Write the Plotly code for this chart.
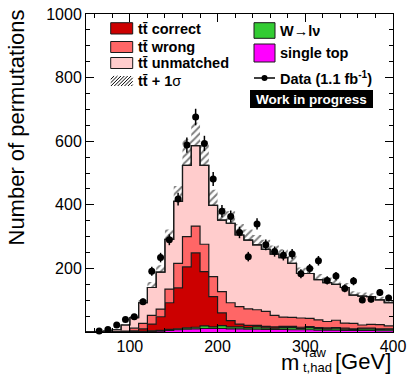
import numpy as np
import plotly.graph_objects as go

# ---------------- data ----------------
bin_edges = [50, 60, 70, 80, 90, 100, 110, 120, 130, 140, 150, 160, 170, 180, 190, 200,
             210, 220, 230, 240, 250, 260, 270, 280, 290, 300, 310, 320, 330, 340, 350,
             360, 370, 380, 390, 400]

single_top = [0, 0, 0, 0, 0, 0.5, 1, 2, 3, 5, 7, 9, 10, 11, 11, 11, 10, 10, 9, 9, 8, 8, 8,
              7, 7, 7, 6, 6, 6, 5, 5, 5, 5, 4, 4]
w_lnu = [0, 0, 0, 0, 0, 1, 1, 2, 2, 3, 3, 4, 5, 8, 5, 9, 6, 6, 5, 7, 5, 4, 6, 7, 4, 7, 5,
         4, 6, 4, 3, 5, 5, 4, 5]
tt_correct = [0, 0, 0, 0, 1, 2.5, 8, 21, 43, 84, 129, 192, 234, 171, 95, 40, 20, 9, 7, 5,
              5, 4, 4, 4, 4, 3, 3, 3, 2, 3, 2, 2, 2, 2, 1]
tt_wrong = [0, 0, 0, 1, 2, 8, 17, 27, 24, 43, 77, 95, 84, 86, 63, 67, 56, 55, 52, 49, 47,
            36, 29, 28, 29, 26, 24, 20, 23, 16, 17, 10, 12, 13, 9]
tt_unmatched = [0, 1, 3, 6, 19, 33, 65, 88, 116, 156, 195, 224, 253, 248, 224, 225, 250,
                225, 216, 204, 195, 193, 187, 170, 140, 141, 127, 122, 113, 112, 89, 91,
                87, 78, 73]
# total prediction with tt + 1 sigma (upper edge of hatched band)
tt_plus_1sigma = [0, 1, 3, 8, 24, 50, 100, 157, 210, 322, 459, 606, 658, 600, 447, 390,
                  380, 340, 322, 305, 290, 272, 260, 240, 203, 202, 182, 171, 165, 154,
                  128, 124, 122, 111, 101]

data_x = [65, 75, 85, 95, 105, 115, 125, 135, 145, 155, 165, 175, 185, 195, 205, 215, 225,
          235, 245, 255, 265, 275, 285, 295, 305, 315, 325, 335, 345, 355, 365, 375, 385, 395]
data_y = [3, 8, 22, 39, 48, 95, 191, 234, 290, 418, 588, 676, 593, 481, 380, 363, 313, 237,
          340, 274, 253, 241, 245, 183, 200, 224, 162, 176, 137, 160, 101, 103, 124, 107]
data_err = [2, 3, 5, 6, 7, 10, 14, 15, 17, 20, 24, 26, 24, 22, 19, 19, 18, 15, 18, 17, 16,
            16, 16, 14, 14, 15, 13, 13, 12, 13, 10, 10, 11, 10]

x_ticks = [100, 200, 300, 400]
y_ticks = [200, 400, 600, 800, 1000]

# ---------------- styling ----------------
FONT = "Liberation Sans, Arial, Helvetica, sans-serif"
C_CORRECT = "#cc0000"
C_WRONG = "#ff6666"
C_UNMATCHED = "#ffcccc"
C_W = "#33cc33"
C_ST = "#ff00ff"
C_LINE = "#1a1a1a"

W, H = 410, 378
L, R, T, B = 86, 17, 14, 46
PW, PH = W - L - R, H - T - B


def px(x):
    return (x - L) / PW


def py(y):
    return (H - B - y) / PH


fig = go.Figure()

components = [single_top, w_lnu, tt_correct, tt_wrong, tt_unmatched]
colors = [C_ST, C_W, C_CORRECT, C_WRONG, C_UNMATCHED]
cum = np.cumsum(np.array(components, dtype=float), axis=0)

for i, (vals, col) in enumerate(zip(cum, colors)):
    yv = list(vals) + [vals[-1]]
    fig.add_trace(go.Scatter(
        x=bin_edges, y=yv, mode="lines", line=dict(shape="hv", color=C_LINE, width=1.2),
        fill="tozeroy" if i == 0 else "tonexty", fillcolor=col, hoverinfo="skip",
        showlegend=False))

# hatched tt + 1 sigma band above the total
up = list(tt_plus_1sigma) + [tt_plus_1sigma[-1]]
fig.add_trace(go.Scatter(
    x=bin_edges, y=up, mode="lines", line=dict(shape="hv", width=0, color="rgba(0,0,0,0)"),
    fill="tonexty", fillcolor="rgba(0,0,0,0)",
    fillpattern=dict(shape="/", fgcolor="black", bgcolor="rgba(255,255,255,0)", size=5,
                     solidity=0.4),
    hoverinfo="skip", showlegend=False))

# redraw the total outline on top of hatch
tot = list(cum[-1]) + [cum[-1][-1]]
fig.add_trace(go.Scatter(x=bin_edges, y=tot, mode="lines",
                         line=dict(shape="hv", color=C_LINE, width=1.2),
                         hoverinfo="skip", showlegend=False))

# data
fig.add_trace(go.Scatter(
    x=data_x, y=data_y, mode="markers",
    marker=dict(color="black", size=7),
    error_y=dict(type="data", array=data_err, color="black", thickness=1.5, width=0),
    cliponaxis=False, showlegend=False))

axis_common = dict(showline=True, linecolor="black", linewidth=1, mirror="allticks",
                   ticks="inside", ticklen=8, tickcolor="black", tickwidth=1,
                   showgrid=False, zeroline=False, automargin=False,
                   tickfont=dict(family=FONT, size=16, color="black"))

fig.update_xaxes(range=[50, 400], tickmode="array", tickvals=x_ticks,
                 minor=dict(ticks="inside", ticklen=4, tick0=0, dtick=20, tickcolor="black",
                            showgrid=False),
                 **axis_common)
fig.update_yaxes(range=[0, 1000], tickmode="array", tickvals=y_ticks,
                 minor=dict(ticks="inside", ticklen=4, tick0=0, dtick=50, tickcolor="black",
                            showgrid=False),
                 **axis_common)

shapes = []
ann = []

# legend: left column boxes
left_rows = [("<b>tt\u0304 correct</b>", C_CORRECT, 22.7, 34.0, 28.5),
             ("<b>tt\u0304 wrong</b>", C_WRONG, 41.5, 52.5, 46.5),
             ("<b>tt\u0304 unmatched</b>", C_UNMATCHED, 57.5, 68.5, 63.0)]
for text, col, y0, y1, yc in left_rows:
    shapes.append(dict(type="rect", xref="paper", yref="paper", x0=px(110.7), x1=px(132.7),
                       y0=py(y1), y1=py(y0), fillcolor=col, line=dict(color=C_LINE, width=1)))
    ann.append(dict(text=text, x=px(135.5), y=py(yc), xanchor="left", yanchor="middle"))

# hatched swatch
hx0, hx1, hy0, hy1 = 110.7, 132.7, 76.0, 86.0
h = hy1 - hy0
xs = hx0 - h
while xs < hx1:
    t0 = max(0.0, hx0 - xs)
    t1 = min(h, hx1 - xs)
    if t1 > t0:
        shapes.append(dict(type="line", xref="paper", yref="paper",
                           x0=px(xs + t0), y0=py(hy1 - t0), x1=px(xs + t1), y1=py(hy1 - t1),
                           line=dict(color="black", width=1)))
    xs += 3.4
ann.append(dict(text="<b>tt\u0304 + 1</b>\u03c3", x=px(135.5), y=py(81.0), xanchor="left",
                yanchor="middle"))

# right column
shapes.append(dict(type="rect", xref="paper", yref="paper", x0=px(254), x1=px(275),
                   y0=py(38.3), y1=py(22.7), fillcolor=C_W, line=dict(color=C_LINE, width=1)))
ann.append(dict(text="<b>W\u2192l\u03bd</b>", x=px(278), y=py(30.5), xanchor="left",
                yanchor="middle"))
shapes.append(dict(type="rect", xref="paper", yref="paper", x0=px(254), x1=px(275),
                   y0=py(62), y1=py(44), fillcolor=C_ST, line=dict(color=C_LINE, width=1)))
ann.append(dict(text="<b>single top</b>", x=px(278), y=py(53), xanchor="left",
                yanchor="middle"))
shapes.append(dict(type="line", xref="paper", yref="paper", x0=px(254), x1=px(275),
                   y0=py(78), y1=py(78), line=dict(color="black", width=1.5)))
shapes.append(dict(type="circle", xref="paper", yref="paper", x0=px(261.5), x1=px(267.5),
                   y0=py(81), y1=py(75), fillcolor="black", line=dict(color="black", width=0)))
ann.append(dict(text="<b>Data (1.1 fb<sup>-1</sup>)</b>", x=px(278), y=py(78),
                xanchor="left", yanchor="middle"))
shapes.append(dict(type="rect", xref="paper", yref="paper", x0=px(250), x1=px(373),
                   y0=py(108), y1=py(90), fillcolor="black", line=dict(color="black", width=0)))

for a in ann:
    a.update(xref="paper", yref="paper", showarrow=False,
             font=dict(family=FONT, size=14.5, color="black"))

ann.append(dict(text="<b>Work in progress</b>", x=px(311.5), y=py(99), xref="paper",
                yref="paper", xanchor="center", yanchor="middle", showarrow=False,
                font=dict(family=FONT, size=13.5, color="white")))

# axis titles
ann.append(dict(text="Number of permutations", x=px(16), y=py(127.5), xref="paper",
                yref="paper", xanchor="center", yanchor="middle", textangle=-90,
                showarrow=False, font=dict(family=FONT, size=22, color="black")))
ann.append(dict(text="m", x=px(301), y=py(362), xref="paper", yref="paper", xanchor="right",
                yanchor="middle", showarrow=False, font=dict(family=FONT, size=22, color="black")))
ann.append(dict(text="raw", x=px(302.5), y=py(352.5), xref="paper", yref="paper",
                xanchor="left", yanchor="middle", showarrow=False,
                font=dict(family=FONT, size=13, color="black")))
ann.append(dict(text="t,had", x=px(300.5), y=py(367.5), xref="paper", yref="paper",
                xanchor="left", yanchor="middle", showarrow=False,
                font=dict(family=FONT, size=13, color="black")))
ann.append(dict(text="[GeV]", x=px(393), y=py(361), xref="paper", yref="paper",
                xanchor="right", yanchor="middle", showarrow=False,
                font=dict(family=FONT, size=22, color="black")))

fig.update_layout(width=W, height=H, margin=dict(l=L, r=R, t=T, b=B, pad=0),
                  paper_bgcolor="white", plot_bgcolor="white", shapes=shapes,
                  annotations=ann, showlegend=False,
                  font=dict(family=FONT, color="black"))

fig.write_html("out.html", config={"displayModeBar": False},
               post_script="document.body.style.margin='0px';document.body.style.padding='0px';")
